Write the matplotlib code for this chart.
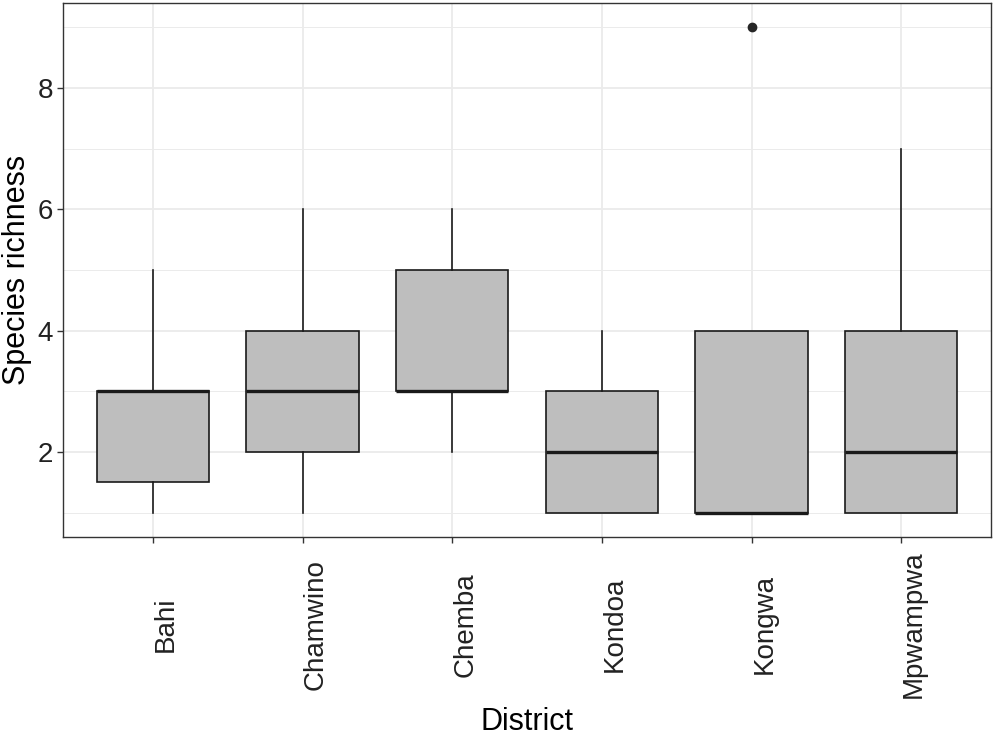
import matplotlib.pyplot as plt
import numpy as np

plt.rcParams['font.family'] = ['Liberation Sans', 'DejaVu Sans']

districts = ["Bahi", "Chamwino", "Chemba", "Kondoa", "Kongwa", "Mpwampwa"]
q1 = [1.5, 2, 3, 1, 1, 1]
med = [3, 3, 3, 2, 1, 2]
q3 = [3, 4, 5, 3, 4, 4]
wlo = [1, 1, 2, 1, 1, 1]
whi = [5, 6, 6, 4, 4, 7]
outliers = [[], [], [], [], [9], []]

stats = []
for i in range(len(districts)):
    stats.append(dict(label=districts[i], q1=q1[i], med=med[i], q3=q3[i],
                      whislo=wlo[i], whishi=whi[i], fliers=outliers[i]))

fig = plt.figure(figsize=(9.94, 7.36), dpi=100)
ax = fig.add_axes([0.0634, 0.2704, 0.9336, 0.7256])

pos = np.arange(1, len(districts) + 1)
ax.bxp(stats, positions=pos, widths=0.75, patch_artist=True, showcaps=False,
       boxprops=dict(facecolor='#BEBEBE', edgecolor='#1a1a1a', linewidth=1.2),
       medianprops=dict(color='#1a1a1a', linewidth=2.4, solid_capstyle='butt'),
       whiskerprops=dict(color='#1a1a1a', linewidth=1.2),
       flierprops=dict(marker='o', markerfacecolor='#262626', markeredgecolor='#262626',
                       markersize=6),
       zorder=3)

ax.set_xlim(0.4, 6.6)
ax.set_ylim(0.6, 9.4)
ax.set_yticks([2, 4, 6, 8])
ax.set_yticks([1, 3, 5, 7, 9], minor=True)
ax.set_xticks(pos)
ax.set_xticklabels(districts, rotation=90)
for lab in ax.get_xticklabels():
    lab.set_horizontalalignment('left')
    lab.set_verticalalignment('center')

ax.grid(True, which='major', color='#EBEBEB', linewidth=1.3, zorder=0)
ax.grid(True, which='minor', axis='y', color='#EBEBEB', linewidth=0.7, zorder=0)
ax.set_axisbelow(True)

ax.tick_params(axis='both', which='major', labelsize=20, colors='#333333',
               labelcolor='#222222', length=4, width=1)
ax.tick_params(axis='x', pad=59)
ax.tick_params(axis='y', pad=3)
ax.tick_params(which='minor', length=0)
for s in ax.spines.values():
    s.set_color('#333333')
    s.set_linewidth(1.0)

ax.set_ylabel('Species richness', fontsize=22, labelpad=4)
ax.set_xlabel('District', fontsize=22, labelpad=6)

fig.savefig('out.png', dpi=100)
